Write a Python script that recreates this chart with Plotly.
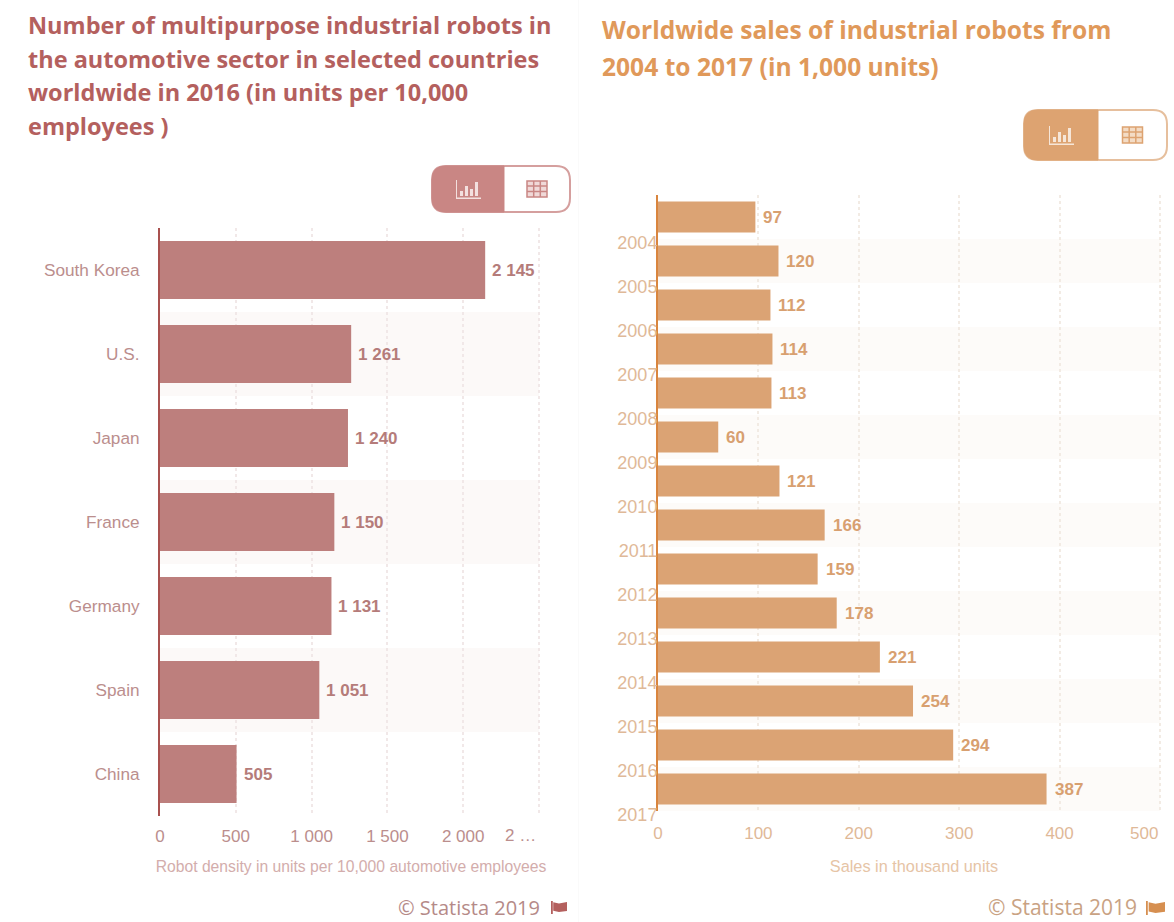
import plotly.graph_objects as go

W, H = 1174, 922

# Robot density, 2016
countries = ["South Korea", "U.S.", "Japan", "France", "Germany", "Spain", "China"]
density = [2145, 1261, 1240, 1150, 1131, 1051, 505]
density_ticks = [0, 500, 1000, 1500, 2000, 2500]
density_tick_labels = ["0", "500", "1 000", "1 500", "2 000", ""]
density_last_label = "2 …"

# Worldwide sales by year
years = ["2004", "2005", "2006", "2007", "2008", "2009", "2010",
         "2011", "2012", "2013", "2014", "2015", "2016", "2017"]
sales = [97, 120, 112, 114, 113, 60, 121, 166, 159, 178, 221, 254, 294, 387]
sales_ticks = [0, 100, 200, 300, 400, 500]
sales_tick_labels = ["0", "100", "200", "300", "400", ""]
sales_last_label = "500"

left_title = ["Number of multipurpose industrial robots in",
              "the automotive sector in selected countries",
              "worldwide in 2016 (in units per 10,000",
              "employees )"]
right_title = ["Worldwide sales of industrial robots from",
               "2004 to 2017 (in 1,000 units)"]

RED = dict(bar="#bd7f7d", axis="#a9514f", title="#b4605e", tick="#bb8e8d",
           sub="#d3adac", value="#b57c7a", button="#c98684", edge="#d59f9e",
           credit="#b58a88", flag="#b4605e", band="#fcf9f8", grid="#f1e8e8",
           icon="#f3e0df", cell="#f0d9d8")
ORANGE = dict(bar="#dba374", axis="#d9853e", title="#e0995a", tick="#dfb998",
              sub="#e6c4a6", value="#d8a070", button="#dda371", edge="#e6bf9d",
              credit="#c9a283", flag="#d68f50", band="#fdfbf9", grid="#f2ebe4",
              icon="#f6e6d8", cell="#f3dcc6")


def px(x):
    return x / W


def py(y):
    return 1 - y / H


def rect(x0, y0, x1, y1, **kw):
    return dict(type="rect", xref="paper", yref="paper", x0=px(x0), x1=px(x1),
                y0=py(y0), y1=py(y1), **kw)


def path(points, **kw):
    return dict(type="path", xref="paper", yref="paper", path=points, **kw)


def rounded(x0, y0, x1, y1, rl, rr):
    """Rounded box path in screen pixels, with separate left and right radii."""
    p = lambda x, y: f"{px(x):.5f},{py(y):.5f}"
    s = f"M{p(x0 + rl, y0)} L{p(x1 - rr, y0)} "
    if rr:
        s += f"Q{p(x1, y0)} {p(x1, y0 + rr)} L{p(x1, y1 - rr)} Q{p(x1, y1)} {p(x1 - rr, y1)} "
    else:
        s += f"L{p(x1, y1)} "
    s += f"L{p(x0 + rl, y1)} "
    if rl:
        s += f"Q{p(x0, y1)} {p(x0, y1 - rl)} L{p(x0, y0 + rl)} Q{p(x0, y0)} {p(x0 + rl, y0)} "
    return s + "Z"


def toggle(x0, y0, x1, y1, split, pal):
    """View switch: chart icon on the filled half, table icon on the outlined half."""
    r = 14
    none = dict(width=0)
    out = [
        path(rounded(x0, y0, x1, y1, r, r), fillcolor="white",
             line=dict(color=pal["edge"], width=2)),
        path(rounded(x0, y0, split, y1, r, 0), fillcolor=pal["button"],
             line=dict(color=pal["button"], width=1)),
    ]
    cx, cy = (x0 + split) / 2, (y0 + y1) / 2
    light = pal["icon"]
    out.append(rect(cx - 12, cy - 9, cx - 11, cy + 9, fillcolor=light, line=none))
    out.append(rect(cx - 12, cy + 8.5, cx + 13, cy + 10, fillcolor=light, line=none))
    for dx, top in [(-8, 2), (-3, -3), (2, 0), (7, -7)]:
        out.append(rect(cx + dx, cy + top, cx + dx + 3, cy + 7, fillcolor=light, line=none))
    tx, ty = (split + x1) / 2, (y0 + y1) / 2
    tl = dict(color=pal["button"], width=1.5)
    out.append(rect(tx - 10, ty - 8, tx + 10, ty + 8, fillcolor=pal["cell"], line=tl))
    for dx in (-3.3, 3.3):
        out.append(rect(tx + dx, ty - 8, tx + dx, ty + 8, line=tl))
    for dy in (-3, 2.5):
        out.append(rect(tx - 10, ty + dy, tx + 10, ty + dy, line=tl))
    return out


def flag(x, y, w, h, color):
    """Small pennant beside the credit line."""
    p = lambda a, b: f"{px(x + a * w):.5f},{py(y + b * h):.5f}"
    return [
        rect(x, y - 1, x + 1.8, y + h + 1, fillcolor=color, line=dict(width=0)),
        path(f"M{p(.14, .02)} L{p(.5, .14)} L{p(1, .0)} L{p(1, .82)} L{p(.5, .92)} L{p(.14, .8)} Z",
             fillcolor=color, line=dict(width=0)),
    ]


def bands(n, xmax, xref, yref, color):
    """Tint on every other row of a chart."""
    return [dict(type="rect", xref=xref, yref=yref, x0=0, x1=xmax, y0=i - 0.5, y1=i + 0.5,
                 fillcolor=color, line=dict(width=0), layer="below")
            for i in range(1, n, 2)]


fig = go.Figure()
fig.add_bar(y=countries, x=density, orientation="h", width=0.69,
            marker=dict(color=RED["bar"], line=dict(width=0)),
            xaxis="x", yaxis="y", showlegend=False)
fig.add_bar(y=years, x=sales, orientation="h", width=0.71,
            marker=dict(color=ORANGE["bar"], line=dict(width=0)),
            xaxis="x2", yaxis="y2", showlegend=False)

annotations = []


def text(x, y, s, size, color, family="Liberation Sans", bold=False, anchor="left"):
    annotations.append(dict(
        xref="paper", yref="paper", x=px(x), y=py(y), text=f"<b>{s}</b>" if bold else s,
        showarrow=False, xanchor=anchor, yanchor="middle", align="left",
        font=dict(family=family, size=size, color=color), borderpad=0))


for i, line in enumerate(left_title):
    text(27, 25 + i * 33.6, line, 23.5, RED["title"], "Open Sans", True)
for i, line in enumerate(right_title):
    text(601, 30 + i * 36.7, line, 24.6, ORANGE["title"], "Open Sans", True)


def thousands(v):
    return f"{v:,}".replace(",", " ")


for i, v in enumerate(density):
    annotations.append(dict(xref="x", yref="y", x=v, y=i, text=f"<b>{thousands(v)}</b>",
                            showarrow=False, xanchor="left", xshift=5,
                            font=dict(family="Liberation Sans", size=17, color=RED["value"])))
for i, v in enumerate(sales):
    annotations.append(dict(xref="x2", yref="y2", x=v, y=i, text=f"<b>{v}</b>",
                            showarrow=False, xanchor="left", xshift=6,
                            font=dict(family="Liberation Sans", size=17, color=ORANGE["value"])))

# The last tick label of each value axis sits inside the plot's right edge
annotations.append(dict(xref="x", yref="paper", x=density_ticks[-1], y=py(835),
                        text=density_last_label, showarrow=False, xanchor="right",
                        xshift=-1, yanchor="middle",
                        font=dict(family="Liberation Sans", size=17, color=RED["tick"])))
annotations.append(dict(xref="x2", yref="paper", x=sales_ticks[-1], y=py(833),
                        text=sales_last_label, showarrow=False, xanchor="right",
                        xshift=0, yanchor="middle",
                        font=dict(family="Liberation Sans", size=17, color=ORANGE["tick"])))

text(541, 907.5, "© Statista 2019", 20, RED["credit"], "Open Sans", anchor="right")
text(1138, 907, "© Statista 2019", 21, ORANGE["credit"], "Open Sans", anchor="right")

shapes = []
shapes += bands(len(countries), density_ticks[-1], "x", "y", RED["band"])
shapes += bands(len(years), sales_ticks[-1], "x2", "y2", ORANGE["band"])
shapes += toggle(432, 166, 570, 212, 504, RED)
shapes += toggle(1024, 110, 1167, 160, 1098, ORANGE)
shapes += flag(551, 902, 16, 11, RED["flag"])
shapes += flag(1146, 902, 19, 12, ORANGE["flag"])
shapes.append(rect(578, 0, 579, H, fillcolor="#fafafa", line=dict(width=0), layer="below"))

common_y = dict(autorange=False, showgrid=False, zeroline=False, ticks="", showline=True,
                type="category", layer="above traces")
common_x = dict(zeroline=False, griddash="dot", gridwidth=1.5, ticks="", showline=False,
                tickmode="array", autorange=False)

# Both value axes run a little past their last tick so its gridline stays drawn
fig.update_layout(
    width=W, height=H, margin=dict(l=0, r=0, t=0, b=0, autoexpand=False),
    paper_bgcolor="white", plot_bgcolor="rgba(0,0,0,0)", barmode="overlay",
    font=dict(family="Liberation Sans"),
    annotations=annotations, shapes=shapes,
    xaxis=dict(common_x, domain=[px(160), px(160 + 2520 * 0.1516)], range=[0, 2520], anchor="y",
               tickvals=density_ticks, ticktext=density_tick_labels,
               gridcolor=RED["grid"], tickangle=0,
               tickfont=dict(size=17, color=RED["tick"]), ticklabelstandoff=8,
               title=dict(text="Robot density in units per 10,000 automotive employees", standoff=16,
                          font=dict(size=15.7, color=RED["sub"]))),
    yaxis=dict(common_y, domain=[py(816), py(228)], range=[6.5, -0.5], anchor="x",
               categoryorder="array", categoryarray=countries,
               linecolor=RED["axis"], linewidth=2, ticklabelstandoff=15,
               tickfont=dict(size=17.2, color=RED["tick"])),
    xaxis2=dict(common_x, domain=[px(658), px(658 + 510 * 1.004)], range=[0, 510], anchor="y2",
                tickvals=sales_ticks, ticktext=sales_tick_labels,
                gridcolor=ORANGE["grid"], tickangle=0,
                tickfont=dict(size=17, color=ORANGE["tick"]), ticklabelstandoff=10,
                title=dict(text="Sales in thousand units", standoff=18,
                           font=dict(size=16.3, color=ORANGE["sub"]))),
    yaxis2=dict(common_y, domain=[py(811), py(195)], range=[13.5, -0.5], anchor="x2",
                categoryorder="array", categoryarray=years,
                linecolor=ORANGE["axis"], linewidth=2, ticklabelstandoff=-5, ticklabelshift=-26,
                tickfont=dict(size=18, color=ORANGE["tick"])),
)

fig.write_html("out.html", config=dict(displayModeBar=False))
